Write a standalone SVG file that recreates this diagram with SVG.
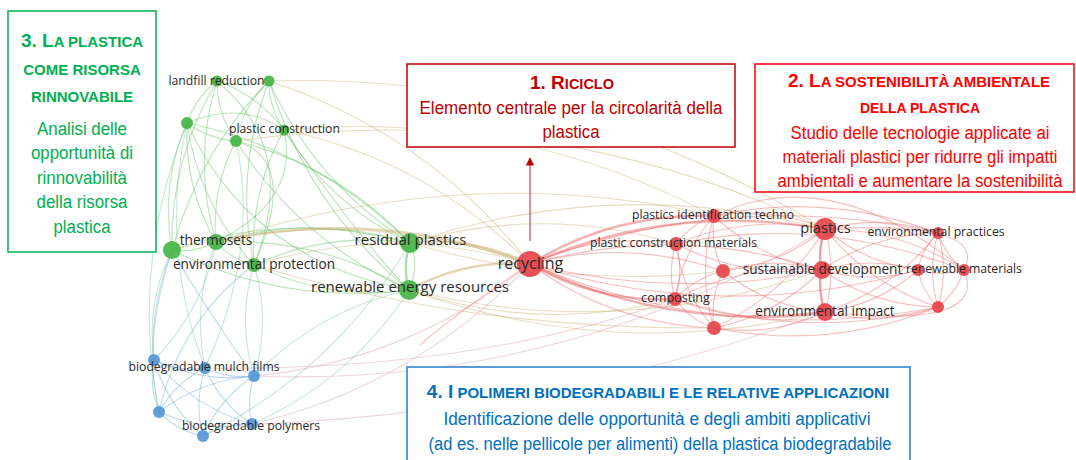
<svg xmlns="http://www.w3.org/2000/svg" width="1076" height="460" viewBox="0 0 1076 460">
<style>
.e{fill:none;stroke-width:1.1;stroke-opacity:.42}
.eg{stroke:#5cbf5c}
.er{stroke:#ea6464}
.eb{stroke:#6aa6dc}
.em{stroke:#c9ae6e}
.ebr{stroke:#d79aa8}
.ebg{stroke:#7cc4a8}
.w{stroke-width:2.4;stroke-opacity:.5}
.ng{fill:#45b545;fill-opacity:.92}
.nr{fill:#e6444a;fill-opacity:.92}
.nb{fill:#5597d6;fill-opacity:.92}
.lb{font-family:"Open Sans","DejaVu Sans",sans-serif;fill:#2a2a2a;text-anchor:middle}
.s{font-size:12.2px}
.m{font-size:13.6px}
.l{font-size:15px}
.box{fill:#fff;stroke-width:1.5}
.bt{font-family:"Liberation Sans",Arial,sans-serif;text-anchor:middle}
.tb{font-weight:bold}
.big{font-size:19px}
.sm{font-size:15px}
.body{font-size:17.6px}
</style>
<defs>
<marker id="ah" viewBox="0 0 10 10" refX="9" refY="5" markerWidth="7" markerHeight="7" orient="auto"><path d="M0,0L10,5L0,10z" fill="#c00000"/></marker>
</defs>
<rect width="1076" height="460" fill="#fff"/>
<g id="connectors">
<!-- green internal -->
<path class="e eg" d="M217,81 Q243,89 269,81"/>
<path class="e eg" d="M217,81 Q196,97 187,123"/>
<path class="e eg" d="M217,81 Q192,161 216,242"/>
<path class="e eg" d="M217,81 Q170,159 172,250"/>
<path class="e eg" d="M269,81 Q243,106 236,141"/>
<path class="e eg" d="M269,81 Q234,171 254,265"/>
<path class="e eg" d="M269,81 Q315,183 410,243"/>
<path class="e eg" d="M269,81 Q308,207 409,290"/>
<path class="e eg" d="M187,123 Q184,187 216,242"/>
<path class="e eg" d="M187,123 Q199,204 254,265"/>
<path class="e eg" d="M187,123 Q316,150 410,243"/>
<path class="e eg" d="M236,141 Q211,188 216,242"/>
<path class="e eg" d="M236,141 Q338,166 410,243"/>
<path class="e eg" d="M236,141 Q300,241 409,290"/>
<path class="e eg" d="M284,130 Q330,205 410,243"/>
<path class="e eg" d="M284,130 Q249,193 254,265"/>
<path class="e eg" d="M284,130 Q258,95 217,81"/>
<path class="e eg" d="M172,250 Q195,253 216,242"/>
<path class="e eg" d="M216,242 Q231,259 254,265"/>
<path class="e eg" d="M216,242 Q313,213 410,243"/>
<path class="e eg" d="M216,242 Q320,237 409,290"/>
<path class="e eg" d="M254,265 Q329,231 410,243"/>
<path class="e eg" d="M254,265 Q328,301 409,290"/>
<path class="e eg w" d="M410,243 Q402,266 409,290"/>
<path class="e eg" d="M410,243 Q420,266 409,290"/>
<path class="e eg" d="M172,250 Q290,210 410,243"/>
<path class="e eg" d="M172,250 Q284,306 409,290"/>
<path class="e eg" d="M187,123 Q160,184 172,250"/>
<path class="e eg" d="M217,81 Q217,114 236,141"/>
<path class="e eg" d="M269,81 Q269,108 284,130"/>
<path class="e eg" d="M187,123 Q209,139 236,141"/>
<path class="e eg" d="M187,123 Q240,100 284,130"/>
<path class="e eg" d="M236,141 Q300,160 254,265"/>
<path class="e eg" d="M284,130 Q300,200 216,242"/>
<path class="e eg" d="M217,81 Q300,150 254,265"/>
<path class="e eg" d="M269,81 Q200,150 172,250"/>
<path class="e eg" d="M284,130 Q360,240 409,290"/>
<path class="e eg" d="M187,123 Q250,260 409,290"/>
<!-- green-red -->
<path class="e em w" d="M410,243 Q473,236 530,264"/>
<path class="e em w" d="M409,290 Q466,259 530,264"/>
<path class="e em w" d="M216,242 Q376,206 530,264"/>
<path class="e em" d="M172,250 Q353,203 530,264"/>
<path class="e em" d="M254,265 Q392,223 530,264"/>
<path class="e em" d="M284,130 Q427,160 530,264"/>
<path class="e em" d="M410,243 Q615,174 825,229"/>
<path class="e em" d="M409,290 Q618,342 822,270"/>
<path class="e em" d="M409,290 Q614,363 825,312"/>
<path class="e em" d="M410,243 Q543,204 676,244"/>
<path class="e em" d="M409,290 Q541,334 675,299"/>
<path class="e em" d="M236,141 Q544,97 825,229"/>
<path class="e em" d="M269,81 Q427,133 530,264"/>
<path class="e em" d="M269,81 Q569,72 825,229"/>
<path class="e em" d="M284,130 Q512,109 714,216"/>
<path class="e em" d="M254,265 Q470,330 714,328"/>
<path class="e em" d="M410,243 Q570,290 723,271"/>
<path class="e em" d="M216,242 Q470,160 714,216"/>
<!-- red internal -->
<path class="e er w" d="M530,264 Q615,212 714,216"/>
<path class="e er" d="M530,264 Q600,232 676,244"/>
<path class="e er" d="M530,264 Q627,238 723,271"/>
<path class="e er w" d="M530,264 Q597,303 675,299"/>
<path class="e er" d="M530,264 Q612,324 714,328"/>
<path class="e er w" d="M530,264 Q672,202 825,229"/>
<path class="e er" d="M530,264 Q677,223 822,270"/>
<path class="e er" d="M530,264 Q680,300 822,270"/>
<path class="e er w" d="M530,264 Q670,332 825,312"/>
<path class="e er" d="M530,264 Q729,187 938,233"/>
<path class="e er" d="M530,264 Q723,325 918,270"/>
<path class="e er" d="M530,264 Q728,347 938,307"/>
<path class="e er" d="M530,264 Q460,310 420,345"/>
<path class="e er" d="M714,216 Q691,224 676,244"/>
<path class="e er" d="M714,216 Q682,252 675,299"/>
<path class="e er" d="M714,216 Q710,245 723,271"/>
<path class="e er" d="M714,216 Q697,272 714,328"/>
<path class="e er" d="M714,216 Q771,206 825,229"/>
<path class="e er" d="M714,216 Q760,259 822,270"/>
<path class="e er" d="M676,244 Q667,271 675,299"/>
<path class="e er" d="M676,244 Q684,271 675,299"/>
<path class="e er" d="M676,244 Q682,292 714,328"/>
<path class="e er" d="M676,244 Q748,214 825,229"/>
<path class="e er" d="M676,244 Q745,279 822,270"/>
<path class="e er" d="M723,271 Q695,278 675,299"/>
<path class="e er" d="M723,271 Q710,298 714,328"/>
<path class="e er" d="M723,271 Q772,256 822,270"/>
<path class="e er" d="M723,271 Q768,307 825,312"/>
<path class="e er" d="M723,271 Q780,265 825,229"/>
<path class="e er" d="M675,299 Q690,320 714,328"/>
<path class="e er" d="M675,299 Q748,328 825,312"/>
<path class="e er" d="M675,299 Q745,263 822,270"/>
<path class="e er" d="M714,328 Q772,337 825,312"/>
<path class="e er" d="M714,328 Q777,315 822,270"/>
<path class="e er" d="M714,328 Q784,295 825,229"/>
<path class="e er w" d="M825,229 Q817,250 822,270"/>
<path class="e er" d="M825,229 Q813,270 825,312"/>
<path class="e er" d="M825,229 Q837,270 825,312"/>
<path class="e er" d="M825,229 Q882,214 938,233"/>
<path class="e er" d="M825,229 Q865,263 918,270"/>
<path class="e er" d="M825,229 Q900,229 964,270"/>
<path class="e er" d="M825,229 Q870,285 938,307"/>
<path class="e er" d="M822,270 Q870,284 918,270"/>
<path class="e er" d="M822,270 Q870,256 918,270"/>
<path class="e er" d="M822,270 Q874,234 938,233"/>
<path class="e er w" d="M822,270 Q817,291 825,312"/>
<path class="e er" d="M822,270 Q874,306 938,307"/>
<path class="e er" d="M825,312 Q882,327 938,307"/>
<path class="e er" d="M825,312 Q878,305 918,270"/>
<path class="e er" d="M825,312 Q893,290 938,233"/>
<path class="e er" d="M938,233 Q922,248 918,270"/>
<path class="e er" d="M938,233 Q945,255 964,270"/>
<path class="e er" d="M938,233 Q927,270 938,307"/>
<path class="e er" d="M938,233 Q949,270 938,307"/>
<path class="e er" d="M918,270 Q941,277 964,270"/>
<path class="e er" d="M918,270 Q922,292 938,307"/>
<path class="e er" d="M964,270 Q957,292 938,307"/>
<path class="e er" d="M714,216 Q824,191 938,233"/>
<path class="e er" d="M676,244 Q816,214 964,270"/>
<path class="e er" d="M714,328 Q829,351 938,307"/>
<path class="e er" d="M675,299 Q805,342 938,307"/>
<path class="e er" d="M714,216 Q830,160 964,270"/>
<path class="e er" d="M825,229 Q990,220 964,270"/>
<path class="e er" d="M825,312 Q990,330 964,270"/>
<!-- blue internal -->
<path class="e eb" d="M154,360 Q178,372 205,368"/>
<path class="e eb" d="M154,360 Q202,383 254,376"/>
<path class="e eb" d="M154,360 Q149,387 159,412"/>
<path class="e eb" d="M154,360 Q193,407 252,424"/>
<path class="e eb" d="M154,360 Q167,405 203,436"/>
<path class="e eb" d="M205,368 Q228,379 254,376"/>
<path class="e eb" d="M205,368 Q175,383 159,412"/>
<path class="e eb" d="M205,368 Q220,403 252,424"/>
<path class="e eb" d="M205,368 Q194,402 203,436"/>
<path class="e eb" d="M254,376 Q201,380 159,412"/>
<path class="e eb" d="M254,376 Q246,400 252,424"/>
<path class="e eb" d="M254,376 Q220,398 203,436"/>
<path class="e eb" d="M159,412 Q204,432 252,424"/>
<path class="e eb" d="M159,412 Q177,431 203,436"/>
<path class="e eb" d="M252,424 Q226,423 203,436"/>
<path class="e eb" d="M154,360 Q150,320 172,250"/>
<path class="e eb" d="M159,412 Q180,320 254,265"/>
<path class="e eb" d="M254,376 Q200,300 172,250"/>
<!-- blue-green -->
<path class="e ebg" d="M154,360 Q146,302 172,250"/>
<path class="e ebg" d="M205,368 Q192,303 216,242"/>
<path class="e ebg" d="M254,376 Q237,320 254,265"/>
<path class="e ebg" d="M254,376 Q318,310 409,290"/>
<path class="e ebg" d="M252,424 Q351,380 409,290"/>
<path class="e ebg" d="M203,436 Q336,370 410,243"/>
<path class="e ebg" d="M154,360 Q203,310 216,242"/>
<path class="e ebg" d="M159,412 Q141,329 172,250"/>
<path class="e ebg" d="M205,368 Q159,248 187,123"/>
<path class="e ebg" d="M159,412 Q130,264 187,123"/>
<path class="e ebg" d="M254,376 Q271,320 254,265"/>
<path class="e ebg" d="M205,368 Q260,250 236,141"/>
<!-- blue-red -->
<path class="e ebr" d="M254,376 Q409,361 530,264"/>
<path class="e ebr" d="M252,424 Q415,386 530,264"/>
<path class="e ebr" d="M254,376 Q561,388 825,229"/>
<path class="e ebr" d="M252,424 Q547,414 825,312"/>
<path class="e ebr" d="M205,368 Q470,372 675,299"/>
</g>
<line x1="530" y1="241" x2="530" y2="158" stroke="#d04848" stroke-width="1.2" marker-end="url(#ah)"/>
<g id="nodes">
<g id="n-landfill-reduction"><circle class="ng" cx="217" cy="81" r="5.5"/><circle class="ng" cx="269" cy="81" r="5.5"/><text class="lb s" x="216.5" y="85">landfill reduction</text></g>
<g id="n-green-a"><circle class="ng" cx="187" cy="123" r="6"/></g>
<g id="n-plastic-construction"><circle class="ng" cx="236" cy="141" r="6"/><circle class="ng" cx="284" cy="130" r="5.5"/><text class="lb s" x="284.5" y="133">plastic construction</text></g>
<g id="n-thermosets"><circle class="ng" cx="172" cy="250" r="9"/><circle class="ng" cx="216" cy="242" r="8"/><text class="lb m" x="216" y="245">thermosets</text></g>
<g id="n-environmental-protection"><circle class="ng" cx="254" cy="265" r="7"/><text class="lb m" x="254" y="269">environmental protection</text></g>
<g id="n-residual-plastics"><circle class="ng" cx="410" cy="243" r="10"/><text class="lb l" x="410.5" y="245">residual plastics</text></g>
<g id="n-renewable-energy-resources"><circle class="ng" cx="409" cy="290" r="10"/><text class="lb l" x="410" y="292">renewable energy resources</text></g>
<g id="n-recycling"><circle class="nr" cx="530" cy="264" r="13"/><text class="lb" style="font-size:16px" x="530.5" y="269">recycling</text></g>
<g id="n-plastics-identification"><circle class="nr" cx="714" cy="216" r="7"/><text class="lb s" x="713" y="219">plastics identification techno</text></g>
<g id="n-plastic-construction-materials"><circle class="nr" cx="676" cy="244" r="7"/><text class="lb s" x="673.5" y="247">plastic construction materials</text></g>
<g id="n-red-a"><circle class="nr" cx="723" cy="271" r="7"/></g>
<g id="n-composting"><circle class="nr" cx="675" cy="299" r="7"/><text class="lb" style="font-size:12.6px" x="675.5" y="302">composting</text></g>
<g id="n-red-b"><circle class="nr" cx="714" cy="328" r="7"/></g>
<g id="n-plastics"><circle class="nr" cx="825" cy="229" r="11"/><text class="lb" style="font-size:14.6px" x="825.5" y="233">plastics</text></g>
<g id="n-environmental-practices"><circle class="nr" cx="938" cy="233" r="6"/><text class="lb s" x="936" y="236">environmental practices</text></g>
<g id="n-sustainable-development"><circle class="nr" cx="822" cy="270" r="9"/><text class="lb m" x="822.5" y="274">sustainable development</text></g>
<g id="n-renewable-materials"><circle class="nr" cx="918" cy="270" r="6"/><circle class="nr" cx="964" cy="270" r="6"/><text class="lb s" x="964" y="273">renewable materials</text></g>
<g id="n-environmental-impact"><circle class="nr" cx="825" cy="312" r="9"/><text class="lb m" x="825" y="316">environmental impact</text></g>
<g id="n-red-c"><circle class="nr" cx="938" cy="307" r="6"/></g>
<g id="n-biodegradable-mulch-films"><circle class="nb" cx="154" cy="360" r="6"/><circle class="nb" cx="205" cy="368" r="6"/><circle class="nb" cx="254" cy="376" r="6"/><text class="lb s" x="204" y="371">biodegradable mulch films</text></g>
<g id="n-blue-a"><circle class="nb" cx="159" cy="412" r="6"/></g>
<g id="n-biodegradable-polymers"><circle class="nb" cx="252" cy="424" r="6"/><circle class="nb" cx="203" cy="436" r="6"/><text class="lb s" x="251" y="430">biodegradable polymers</text></g>
</g>
<g id="box-3">
<rect class="box" x="8" y="11" width="148" height="241" stroke="#00b050"/>
<g class="bt" fill="#00b050">
<text class="tb" x="82" y="47"><tspan class="big">3. L</tspan><tspan class="sm">A PLASTICA</tspan></text>
<text class="tb sm" x="82" y="75">COME RISORSA</text>
<text class="tb sm" x="82" y="102">RINNOVABILE</text>
<text class="body" x="82" y="135" textLength="90" lengthAdjust="spacingAndGlyphs">Analisi delle</text>
<text class="body" x="82" y="159" textLength="102" lengthAdjust="spacingAndGlyphs">opportunità di</text>
<text class="body" x="82" y="184" textLength="90" lengthAdjust="spacingAndGlyphs">rinnovabilità</text>
<text class="body" x="82" y="208" textLength="91" lengthAdjust="spacingAndGlyphs">della risorsa</text>
<text class="body" x="82" y="233" textLength="57" lengthAdjust="spacingAndGlyphs">plastica</text>
</g>
</g>
<g id="box-1">
<rect class="box" x="407" y="64" width="328" height="83" stroke="#c00000"/>
<g class="bt" fill="#c00000">
<text class="tb" x="572" y="89"><tspan class="big">1. R</tspan><tspan style="font-size:14.5px">ICICLO</tspan></text>
<text class="body" x="571" y="114" textLength="303" lengthAdjust="spacingAndGlyphs">Elemento centrale per la circolarità della</text>
<text class="body" x="571" y="138" textLength="57" lengthAdjust="spacingAndGlyphs">plastica</text>
</g>
</g>
<g id="box-2">
<rect class="box" x="755" y="64" width="319" height="128" stroke="#ff0000"/>
<g class="bt" fill="#ff0000">
<text class="tb" x="919" y="87"><tspan class="big">2. L</tspan><tspan class="sm">A SOSTENIBILITÀ AMBIENTALE</tspan></text>
<text class="tb" style="font-size:14px" x="920" y="113">DELLA PLASTICA</text>
<text class="body" x="920" y="139" textLength="259" lengthAdjust="spacingAndGlyphs">Studio delle tecnologie applicate ai</text>
<text class="body" x="920" y="163" textLength="275" lengthAdjust="spacingAndGlyphs">materiali plastici per ridurre gli impatti</text>
<text class="body" x="920" y="187" textLength="285" lengthAdjust="spacingAndGlyphs">ambientali e aumentare la sostenibilità</text>
</g>
</g>
<g id="box-4">
<rect class="box" x="407" y="367" width="503" height="100" stroke="#5b9bd5" style="stroke-width:2"/>
<g class="bt" fill="#0070c0">
<text class="tb" x="658" y="398"><tspan class="big">4. I</tspan><tspan class="sm"> POLIMERI BIODEGRADABILI E LE RELATIVE APPLICAZIONI</tspan></text>
<text class="body" x="657" y="425" textLength="427" lengthAdjust="spacingAndGlyphs">Identificazione delle opportunità e degli ambiti applicativi</text>
<text class="body" x="660" y="450" textLength="463" lengthAdjust="spacingAndGlyphs">(ad es. nelle pellicole per alimenti) della plastica biodegradabile</text>
</g>
</g>
</svg>
